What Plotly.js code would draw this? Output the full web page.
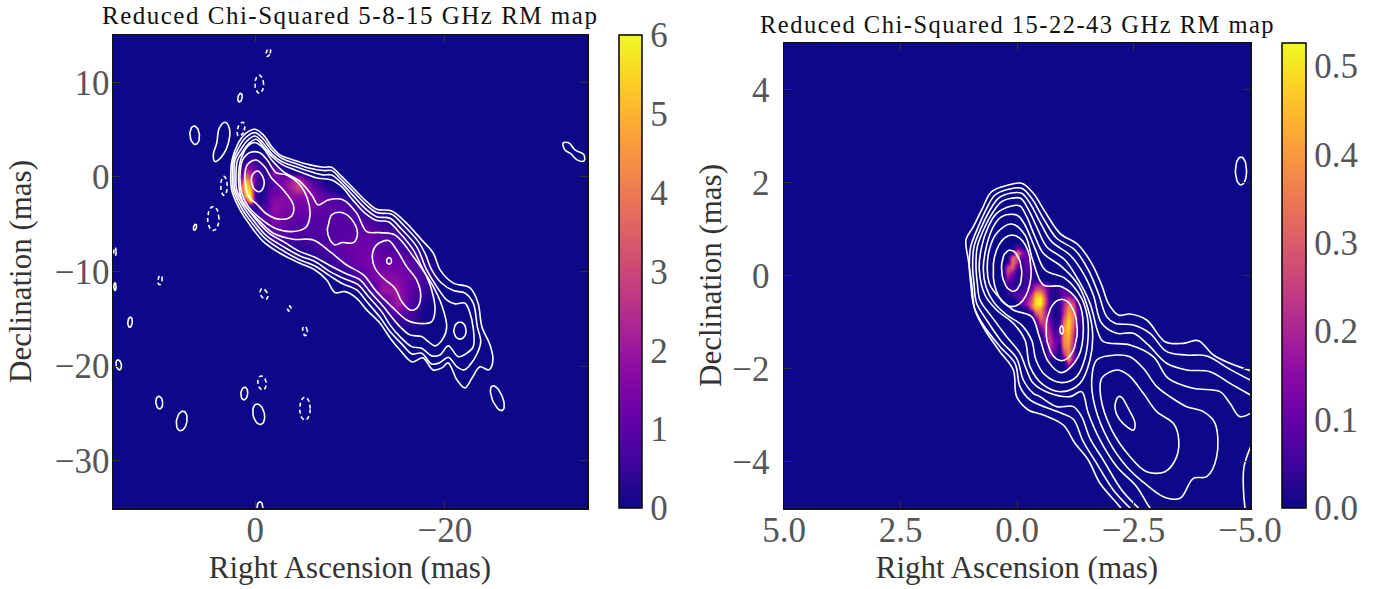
<!DOCTYPE html>
<html><head><meta charset="utf-8">
<script src="https://cdn.plot.ly/plotly-3.0.1.min.js"></script>
<style>html,body{margin:0;padding:0;background:#fff}
.annotation-text{letter-spacing:1.5px}
.annotation[data-index="2"] .annotation-text,.annotation[data-index="3"] .annotation-text{letter-spacing:0}</style></head>
<body><div id="chart" style="width:1378px;height:589px"></div>
<script>
// ---------- text ----------
const leftTitle = 'Reduced Chi-Squared 5-8-15 GHz RM map';
const rightTitle = 'Reduced Chi-Squared 15-22-43 GHz RM map';
const xLabel = 'Right Ascension (mas)';
const yLabel = 'Declination (mas)';
// ---------- ticks ----------
const leftXTicks = [0, -20];
const leftYTicks = [10, 0, -10, -20, -30];
const leftCbTicks = [0, 1, 2, 3, 4, 5, 6];
const rightXTicks = [5, 2.5, 0, -2.5, -5];
const rightXText = ['5.0', '2.5', '0.0', '\u22122.5', '\u22125.0'];
const rightYTicks = [4, 2, 0, -2, -4];
const rightCbTicks = [0, 0.1, 0.2, 0.3, 0.4, 0.5];
const rightCbText = ['0.0', '0.1', '0.2', '0.3', '0.4', '0.5'];
// ---------- colour map (plasma) ----------
const plasma = [[0,'#0d0887'],[0.1,'#41049d'],[0.2,'#6a00a8'],[0.3,'#8f0da4'],[0.4,'#b12a90'],[0.5,'#cc4778'],[0.6,'#e16462'],[0.7,'#f2844b'],[0.8,'#fca636'],[0.9,'#fcce25'],[1,'#f0f921']];
// ---------- left map: reduced chi-squared ----------
const leftRa = [2.5,2,1.5,1,0.5,0,-0.5,-1,-1.5,-2,-3,-4.5,-6,-7.5,-9,-10.5,-12,-13.5,-15,-16.5,-18,-19.5];
const leftDec = [4,3,2,1,0.5,0,-0.5,-1,-1.5,-2,-2.5,-3,-4.5,-6,-7.5,-9,-10.5,-12,-13.5,-15,-16.5];
const leftChi = [
[0,0,0,0,0,0,0,0,0,0,0,0,0,0,0,0,0,0,0,0,0,0],
[0,0,0,0,0,0,0,0,0,0,0,0,0,0,0,0,0,0,0,0,0,0],
[0,0,0,0.1,0.6,0.3,0.2,0.3,0,0,0,0,0,0,0,0,0,0,0,0,0,0],
[0,0,0.3,1.6,1.6,0.9,0.5,0.4,0.3,0.8,0.1,0,0,0,0,0,0,0,0,0,0,0],
[0,0,0.8,2.8,2.2,1,0.5,0.4,0.5,2.2,0.4,0,0,0,0,0,0,0,0,0,0,0],
[0,0,1.6,4,2.8,1,0.4,0.4,0.5,1.2,1.3,1.8,0.1,0,0,0,0,0,0,0,0,0],
[0,0,2.6,5.2,4,1,0.4,0.4,0.6,1.1,1.6,2.8,0.8,0,0,0,0,0,0,0,0,0],
[0,0,3.5,6,4.5,0.8,0.3,0.3,0.7,1,1.6,3,1.2,0.2,0,0,0,0,0,0,0,0],
[0,0.3,3,6,5.6,0.6,0.2,0.4,0.9,1.1,1.5,2.5,1.5,0.6,0,0,0,0,0,0,0,0],
[0,0,1,6,6,0.6,0.1,0.4,1.1,1.4,1.5,1.8,1.6,1,0.4,0,0,0,0,0,0,0],
[0,0,0.3,2.5,6,0.8,0.1,0.5,1.2,1.7,1.6,1.5,1.5,1,0.7,0.2,0,0,0,0,0,0],
[0,0,0,0,0.5,0.3,0.6,0.8,1.2,1.9,1.6,1.3,1.4,1,1,0.5,0,0,0,0,0,0],
[0,0,0,0,0,0.6,0.9,1,1.1,1.6,1.3,1,0.9,0.9,0.9,0.9,0.7,0.3,0,0,0,0],
[0,0,0,0,0,0,0,0,0.7,1,0.9,0.8,0.8,0.8,0.9,1,1.2,0.9,0.6,0,0,0],
[0,0,0,0,0,0,0,0,0,0,0.2,0.3,0.5,0.8,1,1.3,1.3,0.9,0.8,0.4,0,0],
[0,0,0,0,0,0,0,0,0,0,0,0,0,0.3,0.8,1.2,1.4,1.2,1.2,1,0.3,0],
[0,0,0,0,0,0,0,0,0,0,0,0,0,0,0,0.6,1.3,1.7,1.6,1.2,0.6,0],
[0,0,0,0,0,0,0,0,0,0,0,0,0,0,0,0,0.3,2,2,1,0.4,0],
[0,0,0,0,0,0,0,0,0,0,0,0,0,0,0,0,0,0.4,2.2,0.8,0.1,0],
[0,0,0,0,0,0,0,0,0,0,0,0,0,0,0,0,0,0,0.4,0.6,0.05,0],
[0,0,0,0,0,0,0,0,0,0,0,0,0,0,0,0,0,0,0,0,0,0]];
// ---------- right map: reduced chi-squared ----------
const rightRa = [0.5,0.4,0.3,0.2,0.1,0,-0.1,-0.2,-0.3,-0.4,-0.5,-0.6,-0.7,-0.8,-0.9,-1,-1.1,-1.2,-1.3,-1.4];
const rightDec = [0.7,0.6,0.5,0.4,0.3,0.2,0.1,0,-0.1,-0.2,-0.3,-0.4,-0.5,-0.6,-0.7,-0.8,-0.9,-1,-1.1,-1.2,-1.3,-1.4,-1.5,-1.6,-1.7,-1.8,-1.9,-2];
const rightChi = [
[0,0,0,0,0,0,0,0,0,0,0,0,0,0,0,0,0,0,0,0],
[0,0,0,0,0,0.1,0.05,0,0,0,0,0,0,0,0,0,0,0,0,0],
[0,0,0,0,0,0.35,0.2,0.08,0,0,0,0,0,0,0,0,0,0,0,0],
[0,0,0,0,0.3,0.3,0.08,0.12,0,0,0,0,0,0,0,0,0,0,0,0],
[0,0,0,0,0.35,0.2,0.03,0.1,0.05,0,0,0,0,0,0,0,0,0,0,0],
[0,0,0,0.25,0.32,0.08,0.02,0.1,0.06,0,0,0,0,0,0,0,0,0,0,0],
[0,0,0,0.28,0.2,0.03,0.03,0.08,0.05,0,0,0,0,0,0,0,0,0,0,0],
[0,0,0,0.2,0.1,0.02,0.03,0.06,0.03,0,0,0,0,0,0,0,0,0,0,0],
[0,0,0,0.12,0.05,0.02,0.03,0.05,0.05,0.05,0,0,0,0,0,0,0,0,0,0],
[0,0,0,0.05,0.04,0.02,0.03,0.05,0.08,0.18,0.2,0.12,0.06,0.02,0,0,0,0,0,0],
[0,0,0,0.06,0.05,0.04,0.05,0.07,0.12,0.28,0.3,0.18,0.05,0.02,0.06,0.1,0,0,0,0],
[0,0,0,0.03,0.06,0.08,0.08,0.1,0.2,0.42,0.42,0.22,0.04,0.01,0.04,0.12,0.1,0,0,0],
[0,0,0,0,0,0.06,0.1,0.14,0.28,0.48,0.53,0.28,0.04,0.01,0.03,0.15,0.25,0.18,0,0],
[0,0,0,0,0,0,0.1,0.18,0.32,0.5,0.53,0.25,0.04,0.01,0.03,0.18,0.33,0.28,0.05,0],
[0,0,0,0,0,0,0,0.05,0.3,0.45,0.42,0.2,0.04,0.01,0.03,0.2,0.38,0.32,0.08,0],
[0,0,0,0,0,0,0,0,0,0.3,0.38,0.2,0.06,0.01,0.03,0.22,0.42,0.35,0.1,0],
[0,0,0,0,0,0,0,0,0,0.12,0.32,0.22,0.08,0.01,0.03,0.28,0.46,0.35,0.1,0],
[0,0,0,0,0,0,0,0,0,0.02,0.25,0.25,0.12,0.02,0.04,0.33,0.48,0.33,0.08,0],
[0,0,0,0,0,0,0,0,0,0,0.15,0.25,0.15,0.03,0.06,0.36,0.48,0.3,0.05,0],
[0,0,0,0,0,0,0,0,0,0,0.05,0.22,0.2,0.05,0.08,0.38,0.46,0.25,0.03,0],
[0,0,0,0,0,0,0,0,0,0,0,0.18,0.22,0.08,0.08,0.38,0.45,0.22,0.02,0],
[0,0,0,0,0,0,0,0,0,0,0,0.1,0.24,0.12,0.1,0.38,0.42,0.2,0,0],
[0,0,0,0,0,0,0,0,0,0,0,0.03,0.22,0.14,0.02,0.36,0.4,0.18,0,0],
[0,0,0,0,0,0,0,0,0,0,0,0,0.18,0.12,0,0.3,0.38,0.15,0,0],
[0,0,0,0,0,0,0,0,0,0,0,0,0.12,0.05,0,0.2,0.4,0.15,0,0],
[0,0,0,0,0,0,0,0,0,0,0,0,0.02,0,0,0,0.38,0.12,0,0],
[0,0,0,0,0,0,0,0,0,0,0,0,0,0,0,0,0.2,0.05,0,0],
[0,0,0,0,0,0,0,0,0,0,0,0,0,0,0,0,0,0,0,0]];
// ---------- left contours, [RA, Dec] in mas ----------
const leftLevel1 = [[2.58,0.38],[2.44,1.79],[1.88,3.38],[1.07,4.54],[0.02,5.04],[-0.86,4.44],[-1.74,3.2],[-2.62,2.32],[-4.02,1.79],[-5.78,1.27],[-7.19,1.02],[-8.07,1.02],[-8.95,0.21],[-10.35,-1.2],[-11.76,-2.61],[-12.81,-3.42],[-14.4,-3.6],[-15.8,-4.73],[-17.56,-6.66],[-18.79,-8.07],[-19.5,-9.83],[-20.86,-11.2],[-22.66,-11.73],[-23.5,-13.32],[-23.92,-15.86],[-24.77,-17.76],[-25.08,-19.34],[-24.66,-20.4],[-23.71,-20.08],[-22.87,-21.25],[-22.13,-22.3],[-21.29,-21.46],[-20.34,-19.66],[-19.7,-20.19],[-18.76,-20.4],[-17.7,-19.13],[-16.54,-19.56],[-15.27,-18.29],[-14.22,-17.02],[-13.17,-15.47],[-11.76,-14.06],[-10.71,-12.83],[-9.47,-12.13],[-8.42,-12.23],[-7.54,-10.89],[-6.31,-9.84],[-4.73,-9.13],[-2.62,-8.07],[-0.86,-6.84],[0.55,-5.08],[1.6,-3.49],[2.48,-1.38],[2.58,0.38]];
const leftLevel2 = [[2.41,0.38],[2.3,1.79],[1.78,3.03],[0.97,4.19],[0.02,4.68],[-0.86,4.01],[-1.74,2.85],[-2.79,1.97],[-4.2,1.44],[-5.78,0.91],[-7.19,0.67],[-8.07,0.67],[-8.95,-0.14],[-10.35,-1.55],[-11.65,-2.89],[-12.81,-3.77],[-14.4,-3.95],[-15.63,-5.08],[-17.21,-6.84],[-17.91,-8.07],[-18.62,-9.83],[-19.67,-11.24],[-20.9,-12.02],[-22.13,-12.29],[-23,-13.35],[-23.43,-15.82],[-23.79,-17.41],[-23.43,-18.64],[-22.66,-19.87],[-22.03,-20.4],[-21.26,-20.05],[-20.37,-19.06],[-19.49,-19.63],[-18.62,-19.77],[-17.56,-18.64],[-16.51,-18.71],[-15.45,-17.65],[-14.22,-16.35],[-13.17,-14.84],[-11.76,-13.18],[-10.71,-11.95],[-9.12,-11.24],[-7.72,-10.36],[-6.31,-9.41],[-4.73,-8.78],[-2.79,-7.72],[-1.04,-6.49],[0.37,-4.83],[1.42,-3.32],[2.3,-1.38],[2.41,0.38]];
const leftLevel3 = [[2.23,0.38],[2.13,1.79],[1.6,2.78],[0.83,3.84],[0.02,4.33],[-0.86,3.56],[-1.74,2.43],[-2.79,1.62],[-4.2,1.09],[-5.78,0.56],[-7.12,0.21],[-8.07,0.21],[-8.95,-0.5],[-10.35,-2.01],[-11.58,-3.32],[-12.81,-4.2],[-14.22,-4.37],[-15.45,-5.54],[-17.03,-7.37],[-18.09,-9.83],[-19.15,-11.6],[-20.2,-13],[-21.08,-13.42],[-22.13,-13.35],[-22.66,-14.41],[-23,-15.99],[-23,-17.94],[-22.31,-18.64],[-21.42,-19],[-20.37,-17.86],[-19.49,-18.82],[-18.62,-18.92],[-17.56,-18.11],[-16.51,-17.94],[-15.27,-16.88],[-14.22,-15.64],[-13.34,-14.24],[-11.94,-12.65],[-10.88,-11.42],[-9.3,-10.72],[-7.89,-10.01],[-6.31,-8.95],[-4.73,-8.36],[-2.97,-7.37],[-1.21,-6.24],[0.19,-4.62],[1.25,-3.14],[2.13,-1.38],[2.23,0.38]];
const leftLevel4 = [[2.02,0.38],[1.88,1.72],[1.32,2.67],[0.62,3.56],[-0.09,3.98],[-0.93,3.13],[-1.85,2.08],[-2.9,1.27],[-4.2,0.74],[-5.61,0.21],[-6.66,-0.14],[-8.07,-0.32],[-9.12,-1.03],[-10.35,-2.51],[-11.58,-3.84],[-12.81,-4.62],[-14.05,-4.73],[-15.28,-5.96],[-16.68,-7.72],[-17.73,-9.83],[-18.79,-11.6],[-19.67,-13.53],[-20.2,-15.82],[-19.84,-17.05],[-18.97,-17.86],[-18.26,-17.41],[-17.56,-16.88],[-16.32,-16.7],[-15.27,-15.82],[-14.22,-14.59],[-13.52,-13.71],[-12.11,-12.13],[-11.06,-10.89],[-9.48,-10.19],[-8.07,-9.48],[-6.31,-8.5],[-4.73,-7.9],[-3.15,-6.95],[-1.39,-5.89],[0.02,-4.37],[1.07,-2.96],[1.95,-1.38],[2.02,0.38]];
const leftLevel5 = [[1.74,0.38],[1.53,1.79],[0.83,3.2],[0.02,3.63],[-0.86,3.03],[-1.74,1.79],[-2.97,0.56],[-4.73,-0.5],[-5.96,-1.91],[-6.66,-2.96],[-7.72,-2.43],[-9.3,-2.43],[-10.71,-3.84],[-11.76,-5.78],[-13.17,-5.89],[-14.75,-6.14],[-16.68,-8.43],[-18.09,-10.54],[-18.79,-12.65],[-18.97,-14.06],[-18.62,-15.3],[-17.03,-15.47],[-15.98,-15.12],[-14.4,-13.71],[-12.81,-12.13],[-11.41,-10.36],[-9.65,-9.31],[-7.89,-7.9],[-6.13,-6.66],[-4.02,-6.59],[-1.92,-5.96],[-0.16,-4.37],[1.25,-2.79],[1.67,-1.38],[1.74,0.38]];
const leftLevel6 = [[1.6,0.21],[1.32,1.79],[0.55,2.57],[-0.44,2.57],[-1.21,1.86],[-2.2,0.45],[-3.32,0.21],[-4.73,-0.85],[-5.5,-2.26],[-5.78,-4.02],[-5.36,-5.32],[-3.85,-5.78],[-2.09,-5.43],[-0.51,-4.37],[0.72,-3.14],[1.42,-1.73],[1.6,0.21]];
const leftLevel7 = [[1.07,-0.5],[0.83,1.27],[-0.09,1.79],[-1.04,1.02],[-1.74,-0.14],[-2.97,-1.38],[-4.02,-2.96],[-3.85,-4.13],[-2.62,-4.48],[-1.21,-3.92],[-0.16,-2.86],[0.62,-2.15],[1.07,-0.5]];
const leftCore = [[-0.26,0.63],[-0.79,0.03],[-0.93,-0.85],[-0.51,-1.55],[0.02,-1.38],[0.37,-0.67],[0.3,0.21],[-0.26,0.63]];
const leftMiddle = [[-7.72,-5.08],[-8.07,-4.02],[-9.12,-3.77],[-10.35,-4.73],[-10.78,-6.14],[-10.35,-6.95],[-9.12,-6.95],[-8.42,-7.19],[-7.89,-6.66],[-7.61,-5.61],[-7.72,-5.08]];
const leftOuterJet = [[-12.36,-8.25],[-12.81,-7.19],[-14.05,-6.73],[-14.92,-7.72],[-15.98,-9.48],[-17.03,-10.89],[-17.46,-12.65],[-17.03,-13.89],[-16.33,-14.06],[-15.45,-13.18],[-14.75,-11.77],[-13.52,-10.72],[-12.64,-9.66],[-12.36,-8.25]];
const leftPatch = [[3.19,5.78],[2.73,5.15],[2.84,3.56],[3.53,2.15],[4.24,1.62],[4.42,2.33],[4.06,3.56],[3.79,5.15],[3.19,5.78]];
const leftFarPatch = [[-32.47,3.59],[-33.1,3.59],[-33.73,2.85],[-34.68,2.33],[-34.68,1.69],[-33.95,1.8],[-33.31,2.43],[-32.68,2.85],[-32.47,3.59]];
// small closed islands of the left map, read as centre, half-widths and lean
const leftIslandRa   = [6.38,1.5,3.29,4.42,6.35,1.6,-0.43,-1.38,14.79,14.79,13.2,14.4,10.12,7.75,1.15,-0.37,-0.72,-5.25,-0.93,-3.6,-5.25,-0.5,10.04,-14.12,-21.6,-25.54];
const leftIslandDec  = [4.41,5.04,-0.95,-4.4,-5.32,8.38,9.8,13.14,-7.9,-11.6,-15.36,-19.87,-23.86,-25.8,-22.9,-25.09,-21.78,-24.49,-12.37,-13.92,-16.28,-34.85,-10.9,-8.88,-16.25,-23.39];
const leftIslandHalfRa  = [0.5,0.36,0.35,0.6,0.16,0.22,0.46,0.22,0.13,0.12,0.24,0.28,0.36,0.55,0.36,0.6,0.44,0.56,0.36,0.2,0.25,0.3,0.22,0.26,0.65,0.55];
const leftIslandHalfDec = [0.98,0.76,1,1.27,0.32,0.46,0.95,0.42,0.45,0.4,0.53,0.53,0.67,1.05,0.67,1.1,0.74,1.2,0.6,0.28,0.5,0.5,0.5,0.35,0.9,1.4];
const leftIslandLean = [-5,18,0,0,15,12,0,20,0,0,5,-10,-5,10,5,-12,-8,0,-25,0,-8,0,10,0,0,-22];
const leftIslandDash = [0,1,1,1,0,0,1,1,1,0,0,0,0,0,0,0,1,1,1,1,1,0,1,0,0,0];
// ---------- right contours, [RA, Dec] in mas ----------
const rightLevel1 = [[-2.353,-5.186],[-2.21,-4.978],[-1.781,-4.469],[-1.53,-3.967],[-1.244,-3.609],[-0.994,-3.215],[-0.565,-2.999],[-0.243,-2.892],[0.007,-2.605],[0.079,-2.032],[0.365,-1.638],[0.687,-1.172],[0.902,-0.742],[0.973,-0.168],[1.045,0.334],[1.095,0.764],[0.937,1.05],[0.758,1.409],[0.544,1.803],[0.186,1.946],[-0.1,1.982],[-0.35,1.767],[-0.6,1.373],[-0.922,0.907],[-1.316,0.656],[-1.602,0.262],[-1.817,-0.204],[-1.96,-0.598],[-2.175,-0.85],[-2.425,-0.828],[-2.783,-0.957],[-3.176,-1.423],[-3.57,-1.459],[-3.892,-1.401],[-4.214,-1.71],[-4.571,-1.889],[-5.07,-2.068]];
const rightLevel2 = [[-2.639,-5.186],[-2.425,-4.999],[-2.067,-4.612],[-1.709,-4.039],[-1.423,-3.573],[-1.209,-3.093],[-0.958,-2.964],[-0.493,-2.784],[-0.279,-2.677],[-0.064,-2.39],[0.043,-1.889],[0.365,-1.53],[0.723,-1.064],[0.923,-0.67],[0.994,-0.168],[1.023,0.19],[0.994,0.62],[0.83,1.05],[0.651,1.445],[0.472,1.731],[0.186,1.853],[-0.1,1.875],[-0.314,1.66],[-0.565,1.23],[-0.851,0.8],[-1.244,0.549],[-1.53,0.119],[-1.745,-0.383],[-1.924,-0.885],[-2.103,-1.029],[-2.497,-1.065],[-2.855,-1.244],[-3.212,-1.638],[-3.641,-1.71],[-4.07,-1.731],[-4.571,-2.018],[-5.07,-2.283]];
const rightLevel3 = [[-2.782,-5.186],[-2.604,-4.999],[-2.246,-4.612],[-1.852,-3.967],[-1.566,-3.501],[-1.387,-3.035],[-1.209,-2.82],[-0.851,-2.82],[-0.493,-2.605],[-0.35,-2.534],[-0.136,-2.247],[0.007,-1.781],[0.329,-1.423],[0.651,-0.957],[0.866,-0.598],[0.923,-0.168],[0.952,0.19],[0.923,0.62],[0.758,1.05],[0.58,1.409],[0.401,1.66],[0.15,1.767],[-0.1,1.767],[-0.279,1.552],[-0.508,1.122],[-0.744,0.728],[-1.137,0.441],[-1.423,0.047],[-1.638,-0.419],[-1.817,-1.028],[-2.139,-1.243],[-2.496,-1.243],[-2.818,-1.494],[-3.211,-1.888],[-3.641,-2.032],[-4.141,-2.068],[-4.571,-2.319],[-5.071,-2.605]];
const rightLevel4 = [[-3.033,-5.186],[-2.854,-4.999],[-2.568,-4.541],[-2.139,-4.11],[-1.781,-3.537],[-1.53,-2.964],[-1.387,-2.498],[-1.137,-2.605],[-0.708,-2.534],[-0.35,-2.319],[-0.193,-1.996],[-0.064,-1.673],[0.222,-1.315],[0.544,-0.885],[0.794,-0.527],[0.851,-0.168],[0.88,0.19],[0.851,0.62],[0.687,1.05],[0.508,1.373],[0.329,1.588],[0.115,1.66],[-0.078,1.66],[-0.243,1.423],[-0.436,1.015],[-0.636,0.62],[-1.03,0.334],[-1.316,-0.096],[-1.566,-0.598],[-1.745,-1.243],[-1.852,-1.423],[-2.425,-1.494],[-2.925,-1.745],[-3.247,-2.211],[-3.784,-2.426],[-4.356,-2.498],[-4.571,-2.749],[-4.785,-3.035],[-5.071,-2.928]];
const rightLevel5 = [[0.809,0.119],[0.758,0.62],[0.615,1.05],[0.437,1.337],[0.115,1.495],[-0.064,1.495],[-0.207,1.265],[-0.386,0.835],[-0.565,0.477],[-0.958,0.19],[-1.316,-0.204],[-1.531,-0.742],[-1.623,-1.243],[-1.566,-1.817],[-1.352,-2.319],[-0.958,-2.498],[-0.565,-2.354],[-0.279,-1.96],[-0.171,-1.387],[0.079,-1.028],[0.437,-0.742],[0.687,-0.419],[0.809,0.119]];
const rightLevel6 = [[0.723,0.119],[0.665,0.585],[0.508,1.05],[0.329,1.265],[0.115,1.316],[-0.028,1.28],[-0.171,1.086],[-0.386,0.585],[-0.601,0.119],[-1.03,-0.061],[-1.387,-0.491],[-1.509,-0.885],[-1.53,-1.243],[-1.459,-1.781],[-1.28,-2.175],[-0.958,-2.304],[-0.601,-2.139],[-0.407,-1.817],[-0.314,-1.387],[-0.1,-1.064],[0.222,-0.849],[0.508,-0.562],[0.665,-0.24],[0.723,0.119]];
const rightLevel7 = [[0.637,0.119],[0.594,0.549],[0.437,0.907],[0.115,1.108],[-0.171,0.871],[-0.336,0.334],[-0.565,-0.204],[-0.958,-0.24],[-1.316,-0.562],[-1.423,-1.1],[-1.316,-1.745],[-0.958,-2.089],[-0.672,-1.853],[-0.479,-1.315],[-0.314,-0.885],[0.079,-0.742],[0.365,-0.491],[0.58,-0.204],[0.637,0.119]];
const rightTailOuter = [[-2.139,-1.71],[-1.71,-1.817],[-1.603,-2.247],[-1.674,-2.821],[-1.96,-3.538],[-2.354,-4.111],[-2.783,-4.505],[-3.141,-4.756],[-3.498,-4.792],[-3.784,-4.362],[-4.07,-4.326],[-4.285,-3.896],[-4.249,-3.179],[-3.999,-2.928],[-3.641,-2.821],[-3.284,-2.606],[-3,-2.391],[-2.711,-1.996],[-2.425,-1.746],[-2.139,-1.71]];
const rightTailMiddle = [[-2.139,-2.032],[-1.817,-2.211],[-1.796,-2.606],[-2.032,-3.322],[-2.425,-3.896],[-2.783,-4.219],[-3.176,-4.219],[-3.427,-3.896],[-3.463,-3.466],[-3.355,-3.179],[-3,-2.928],[-2.711,-2.534],[-2.39,-2.14],[-2.139,-2.032]];
const rightTailInner = [[-2.175,-2.606],[-2.103,-2.821],[-2.211,-3.107],[-2.497,-3.323],[-2.533,-3.179],[-2.368,-2.821],[-2.246,-2.62],[-2.175,-2.606]];
const rightEdgeArc = [[-5.015,-3.68],[-4.872,-4.111],[-4.857,-4.541],[-4.893,-5],[-4.93,-5.19]];
const rightIslandRa   = [0.105,0.115,-0.958,-0.958,-4.807];
const rightIslandDec  = [0.1,0.104,-1.172,-1.172,2.247];
const rightIslandHalfRa  = [0.41,0.215,0.336,0.04,0.12];
const rightIslandHalfDec = [0.77,0.445,0.66,0.085,0.3];
const rightIslandLean = [0,-5,0,0,0];

const WIDTH = 1378, HEIGHT = 589;
const fx = p => p / WIDTH, fy = p => 1 - p / HEIGHT;
const contourColor = '#ffffff', lineWidth = 1.6;

function curve(points, xaxis, yaxis, width) {
  return {type:'scatter', mode:'lines', x:points.map(p=>p[0]), y:points.map(p=>p[1]), xaxis, yaxis,
    line:{color:contourColor, width, shape:'spline', smoothing:1}, hoverinfo:'skip', showlegend:false};
}
function island(ra, dec, a, b, leanDeg, dashed, xaxis, yaxis, width) {
  const xs=[], ys=[], th=leanDeg*Math.PI/180;
  for (let i=0;i<=32;i++){
    const t=i/32*2*Math.PI, u=a*Math.cos(t), v=b*Math.sin(t);
    xs.push(ra-(u*Math.cos(th)+v*Math.sin(th)));
    ys.push(dec+(-u*Math.sin(th)+v*Math.cos(th)));
  }
  return {type:'scatter', mode:'lines', x:xs, y:ys, xaxis, yaxis,
    line:{color:contourColor, width, dash:dashed?'4px,3px':'solid'}, hoverinfo:'skip', showlegend:false};
}
const tickFont = {family:'"Liberation Serif", serif', size:35, color:'#555555'};
const labelFont = {family:'"Liberation Serif", serif', size:31, color:'#333333'};
const titleFont = {family:'"Liberation Serif", serif', size:25, color:'#111111'};
const titleFontRight = {family:'"Liberation Serif", serif', size:24.5, color:'#111111'};

const traces = [
 {type:'heatmap', x:leftRa, y:leftDec, z:leftChi, xaxis:'x', yaxis:'y', zmin:0, zmax:6, zsmooth:'best', colorscale:plasma, hoverinfo:'skip',
  colorbar:{x:fx(619), xanchor:'left', xpad:0, ypad:0, y:fy(508), yanchor:'bottom', len:473/HEIGHT, lenmode:'fraction', thickness:23, thicknessmode:'pixels',
   outlinecolor:'#000', outlinewidth:1.5, ticks:'', tickvals:leftCbTicks, tickfont:tickFont, ticklabelposition:'outside'}},
 {type:'heatmap', x:rightRa, y:rightDec, z:rightChi, xaxis:'x2', yaxis:'y2', zmin:0, zmax:0.526, zsmooth:'best', colorscale:plasma, hoverinfo:'skip',
  colorbar:{x:fx(1282), xanchor:'left', xpad:0, ypad:0, y:fy(508), yanchor:'bottom', len:465/HEIGHT, lenmode:'fraction', thickness:24, thicknessmode:'pixels',
   outlinecolor:'#000', outlinewidth:1.5, ticks:'', tickvals:rightCbTicks, ticktext:rightCbText, tickfont:tickFont}}
];
[leftLevel1,leftLevel2,leftLevel3,leftLevel4,leftLevel5,leftLevel6,leftLevel7,leftCore,leftMiddle,leftOuterJet,leftPatch,leftFarPatch]
  .forEach(c=>traces.push(curve(c,'x','y',lineWidth)));
leftIslandRa.forEach((r,i)=>traces.push(island(r,leftIslandDec[i],leftIslandHalfRa[i],leftIslandHalfDec[i],leftIslandLean[i],leftIslandDash[i],'x','y',lineWidth)));
[rightLevel1,rightLevel2,rightLevel3,rightLevel4,rightLevel5,rightLevel6,rightLevel7,rightTailOuter,rightTailMiddle,rightTailInner,rightEdgeArc]
  .forEach(c=>traces.push(curve(c,'x2','y2',lineWidth)));
rightIslandRa.forEach((r,i)=>traces.push(island(r,rightIslandDec[i],rightIslandHalfRa[i],rightIslandHalfDec[i],rightIslandLean[i],0,'x2','y2',lineWidth)));

function axis(domain, range, tickvals, ticktext, anchor, labelShift, title, standoff){
  const a = {domain, range, anchor, tickmode:'array', tickvals, ticks:'inside', ticklen:7, tickwidth:1, tickcolor:'#333',
    mirror:'ticks', showline:true, linecolor:'#111', linewidth:1.5, showgrid:false, zeroline:false, tickfont:tickFont, automargin:false,
    ticklabelstandoff:labelShift};
  if (title) a.title = {text:title, font:labelFont, standoff};
  if (ticktext) a.ticktext = ticktext;
  return a;
}
const layout = {
  width:WIDTH, height:HEIGHT, margin:{l:0,r:0,t:0,b:0}, paper_bgcolor:'#fff', plot_bgcolor:'#0d0887', showlegend:false,
  xaxis: axis([fx(113),fx(587)],[15,-35],leftXTicks,null,'y',-10),
  yaxis: axis([fy(508),fy(35)],[-35,15],leftYTicks,null,'x',-5,yLabel,14),
  xaxis2: axis([fx(784),fx(1250)],[5,-5],rightXTicks,rightXText,'y2',-10),
  yaxis2: axis([fy(508),fy(43)],[-5,5],rightYTicks,null,'x2',6,yLabel,1),
  annotations:[
   {text:leftTitle, xref:'paper', yref:'paper', x:fx(350), y:fy(15), xanchor:'center', yanchor:'middle', showarrow:false, font:titleFont},
   {text:rightTitle, xref:'paper', yref:'paper', x:fx(1017), y:fy(25), xanchor:'center', yanchor:'middle', showarrow:false, font:titleFontRight},
   {text:xLabel, xref:'paper', yref:'paper', x:fx(350), y:fy(567), xanchor:'center', yanchor:'middle', showarrow:false, font:labelFont},
   {text:xLabel, xref:'paper', yref:'paper', x:fx(1017), y:fy(567), xanchor:'center', yanchor:'middle', showarrow:false, font:labelFont}
  ]
};
Plotly.newPlot('chart', traces, layout, {displayModeBar:false, staticPlot:true});
</script></body></html>
